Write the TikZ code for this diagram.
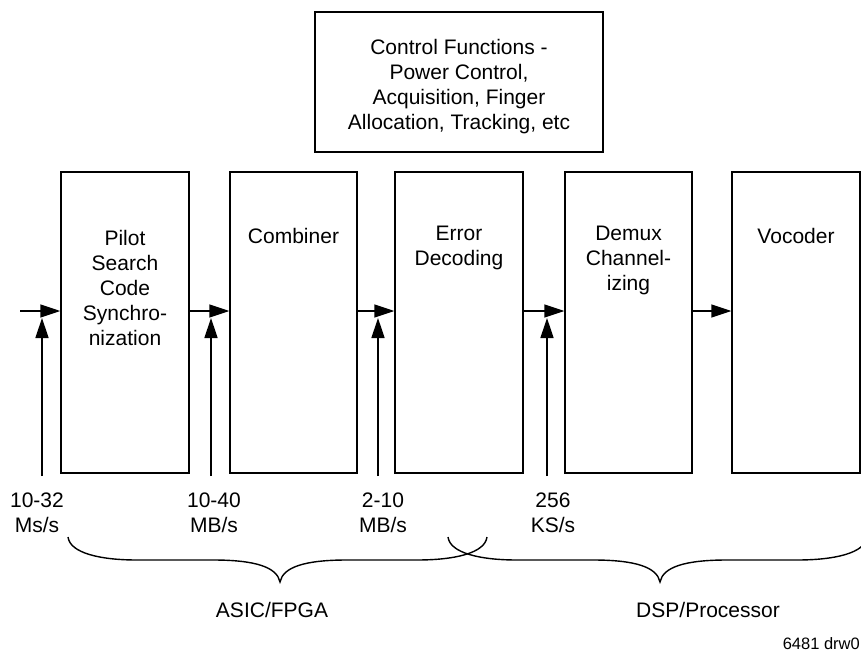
\documentclass[tikz,border=0pt]{standalone}
\usepackage{fontspec}
\setmainfont{Liberation Sans}
\usetikzlibrary{arrows.meta}
\tikzset{
  blk/.style={draw, line width=1.4pt, minimum height=301pt, inner sep=0pt},
  ctl/.style={draw, line width=1.4pt, minimum width=288pt, minimum height=140pt, inner sep=0pt},
  txt/.style={align=center, inner sep=0pt, font=\fontsize{21}{25}\selectfont},
  lbl/.style={txt, anchor=north, execute at begin node=\strut},
  arr/.style={line width=1.4pt, -{Triangle[length=20pt,width=13pt]}},
  brace/.style={line width=1.4pt},
}
\begin{document}
\begin{tikzpicture}[x=1pt,y=-1pt]
\useasboundingbox (0,0) rectangle (861,652);
\clip (0,0) rectangle (861,652);
% control box
\node[ctl] (ctl) at (459,82) {};
\node[lbl] (ctltext) at (459,39) {Control Functions -\\Power Control,\\Acquisition, Finger\\Allocation, Tracking, etc};
% blocks
\node[blk, minimum width=128pt] (b1) at (125,322.5) {};
\node[blk, minimum width=127pt] (b2) at (293.5,322.5) {};
\node[blk, minimum width=128pt] (b3) at (459,322.5) {};
\node[blk, minimum width=127pt] (b4) at (628.5,322.5) {};
\node[blk, minimum width=128pt] (b5) at (796,322.5) {};
% block texts
\node[lbl] (t1) at (125,230.5) {Pilot\\Search\\Code\\Synchro-\\nization};
\node[lbl] (t2) at (293.5,225.5) {Combiner};
\node[lbl] (t3) at (459,225.5) {Error\\Decoding};
\node[lbl] (t4) at (628.5,225.5) {Demux\\Channel-\\izing};
\node[lbl] (t5) at (796,225.5) {Vocoder};
% horizontal arrows
\coordinate (hy) at (0,311);
\coordinate (in0) at (20,311);
\draw[arr] (in0) -- (b1.west |- hy);
\draw[arr] (b1.east |- hy) -- (b2.west |- hy);
\draw[arr] (b2.east |- hy) -- (b3.west |- hy);
\draw[arr] (b3.east |- hy) -- (b4.west |- hy);
\draw[arr] (b4.east |- hy) -- (b5.west |- hy);
% vertical arrows
\coordinate (v1b) at (42,476);  \coordinate (v1t) at (42,318);
\coordinate (v2b) at (211,476); \coordinate (v2t) at (211,318);
\coordinate (v3b) at (378,476); \coordinate (v3t) at (378,318);
\coordinate (v4b) at (547,476); \coordinate (v4t) at (547,318);
\draw[arr] (v1b) -- (v1t);
\draw[arr] (v2b) -- (v2t);
\draw[arr] (v3b) -- (v3t);
\draw[arr] (v4b) -- (v4t);
% rate labels (first baseline at 510)
\node[lbl] (r1) at (37,492.5) {10-32\\Ms/s};
\node[lbl] (r2) at (214,492.5) {10-40\\MB/s};
\node[lbl] (r3) at (383,492.5) {2-10\\MB/s};
\node[lbl] (r4) at (553,492.5) {256\\KS/s};
% braces
\draw[brace] (68,537) .. controls (70,553) and (100,560) .. (137,560) -- (213,560)
  .. controls (255,560) and (277,567) .. (280,582)
  .. controls (283,567) and (305,560) .. (347,560) -- (417,560)
  .. controls (455,560) and (485,553) .. (487,537);
\draw[brace] (448,537) .. controls (450,553) and (480,560) .. (517,560) -- (593,560)
  .. controls (635,560) and (657,567) .. (660,582)
  .. controls (663,567) and (685,560) .. (727,560) -- (797,560)
  .. controls (835,560) and (865,553) .. (867,537);
% group labels
\node[lbl] (g1) at (272,599.5) {ASIC/FPGA};
\node[lbl] (g2) at (708,599.5) {DSP/Processor};
\node[anchor=base east, inner sep=0pt, font=\fontsize{16.5}{20}\selectfont] (id) at (860,649) {6481 drw0};
\end{tikzpicture}
\end{document}
